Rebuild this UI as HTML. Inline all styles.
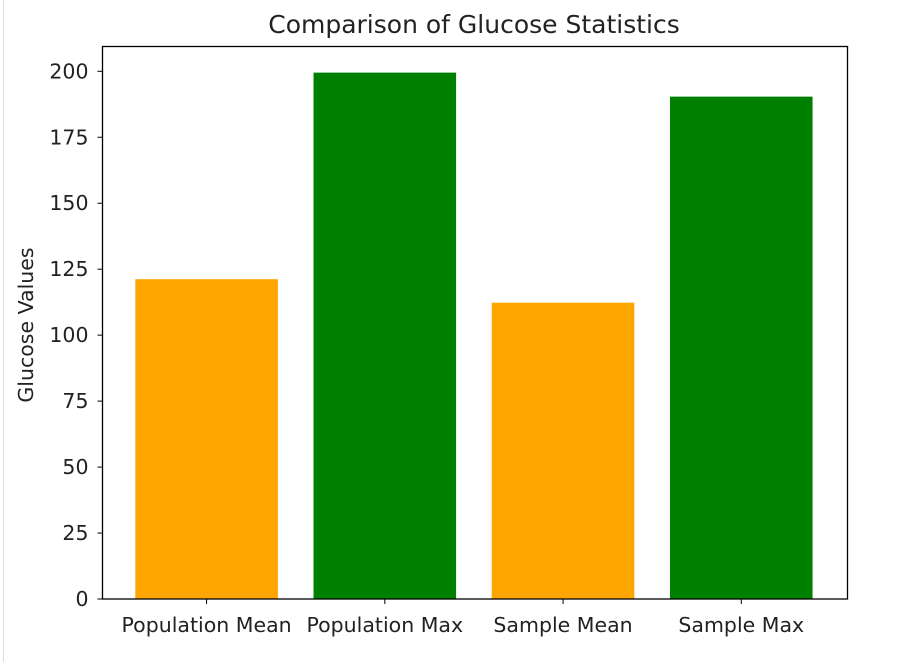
<!DOCTYPE html>
<html><head><meta charset="utf-8"><style>
body{margin:0;background:#fff;}
svg{display:block;font-family:"DejaVu Sans","Liberation Sans",sans-serif;}
</style></head><body>
<svg id="chart" width="920" height="662" viewBox="0 0 920 662">
<rect x="0" y="0" width="920" height="662" fill="#fff"/>
<line x1="3.5" y1="0" x2="3.5" y2="662" stroke="#ddd" stroke-width="1"/>
<text x="474" y="33" text-anchor="middle" font-size="25" fill="#222">Comparison of Glucose Statistics</text>
<text transform="translate(33,325) rotate(-90)" text-anchor="middle" font-size="20.5" fill="#222">Glucose Values</text>
<g id="bars"></g><g id="yticks"></g><g id="xticks"></g>
<rect x="102.5" y="46.5" width="745" height="552.5" fill="none" stroke="#000" stroke-width="1.3"/>
</svg>
<script>
const categories=["Population Mean","Population Max","Sample Mean","Sample Max"];
const values=[121.2,199.5,112.3,190.4];
const colors=["orange","green","orange","green"];
const yTicks=[0,25,50,75,100,125,150,175,200];
const ns="http://www.w3.org/2000/svg";
const L=102.5,R=847.5,T=46.5,B=599;
const xMin=-0.584,xMax=3.596,yMax=209.4;
const sx=v=>L+(v-xMin)/(xMax-xMin)*(R-L);
const sy=v=>B-v/yMax*(B-T);
function mk(t,a,p){const e=document.createElementNS(ns,t);for(const k in a)e.setAttribute(k,a[k]);p.appendChild(e);return e;}
const bars=document.getElementById('bars'),yt=document.getElementById('yticks'),xt=document.getElementById('xticks');
categories.forEach((c,i)=>{
  const x0=sx(i-0.4),x1=sx(i+0.4);
  const r=mk('rect',{x:x0,y:sy(values[i]),width:x1-x0,height:B-sy(values[i]),fill:colors[i]},bars);
  
  
  const tk=mk('line',{x1:sx(i),x2:sx(i),y1:B,y2:B+5,stroke:'#000','stroke-width':1},xt);
  
  
  const t=mk('text',{x:sx(i),y:B+33,'text-anchor':'middle','font-size':'20.5',fill:'#222'},xt);
  t.textContent=c;
  
  
});
yTicks.forEach(v=>{
  const y=sy(v);
  const tk=mk('line',{x1:L-5,x2:L,y1:y,y2:y,stroke:'#000','stroke-width':1},yt);
  
  
  const t=mk('text',{x:L-14,y:y+7,'text-anchor':'end','font-size':'20.5',fill:'#222'},yt);
  t.textContent=v;
  
  
});
</script>
</body></html>
